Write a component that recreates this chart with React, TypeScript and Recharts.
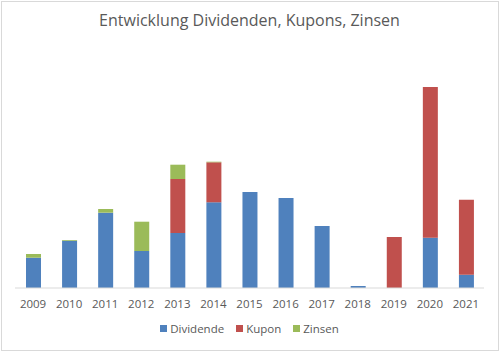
import { BarChart, Bar, XAxis, YAxis } from "recharts";

const years = ["2009", "2010", "2011", "2012", "2013", "2014", "2015", "2016", "2017", "2018", "2019", "2020", "2021"];
const dividende = [30.3, 47.3, 75.3, 37, 55, 85.7, 96, 90, 62, 2, 0, 50.3, 13.3];
const kupon = [0, 0, 0, 0, 54, 40, 0, 0, 0, 0, 51, 150.7, 75];
const zinsen = [3.7, 0.7, 3.7, 29.3, 14.3, 0.6, 0, 0, 0, 0, 0, 0, 0];

const series = [
  { key: "dividende", name: "Dividende", color: "#4F81BD" },
  { key: "kupon", name: "Kupon", color: "#C0504D" },
  { key: "zinsen", name: "Zinsen", color: "#9BBB59" },
];

const data = years.map((year, i) => ({
  year,
  dividende: dividende[i],
  kupon: kupon[i],
  zinsen: zinsen[i],
}));

const font = "'Open Sans', 'Noto Sans', sans-serif";

export default function App() {
  return (
    <div
      style={{
        position: "absolute",
        left: 0,
        top: 0,
        width: 499,
        height: 351,
        background: "#fff",
        fontFamily: font,
      }}
    >
      <div
        style={{
          position: "absolute",
          left: 1,
          top: 1,
          width: 496,
          height: 348,
          border: "1px solid #d9d9d9",
        }}
      />
      <div
        style={{
          position: "absolute",
          top: 9,
          left: 0,
          width: 499,
          textAlign: "center",
          fontSize: 16,
          color: "#595959",
        }}
      >
        Entwicklung Dividenden, Kupons, Zinsen
      </div>
      <BarChart
        width={499}
        height={351}
        data={data}
        margin={{ top: 48, right: 15, bottom: 33, left: 15 }}
        barSize={15}
      >
        <XAxis
          dataKey="year"
          axisLine={{ stroke: "#d9d9d9" }}
          tickLine={false}
          height={30}
          tick={{ fontSize: 11.5, fill: "#595959", fontFamily: font }}
          tickMargin={6}
        />
        <YAxis hide domain={[0, 240]} />
        {series.map((s) => (
          <Bar
            key={s.key}
            dataKey={s.key}
            name={s.name}
            stackId="a"
            fill={s.color}
            isAnimationActive={false}
          />
        ))}
      </BarChart>
      <div
        style={{
          position: "absolute",
          top: 321,
          left: 0,
          width: 499,
          display: "flex",
          justifyContent: "center",
          gap: 12,
          fontSize: 11.5,
          color: "#595959",
        }}
      >
        {series.map((s) => (
          <div key={s.key} style={{ display: "flex", alignItems: "center", gap: 3 }}>
            <span style={{ width: 7, height: 7, background: s.color, display: "inline-block" }} />
            <span>{s.name}</span>
          </div>
        ))}
      </div>
    </div>
  );
}
